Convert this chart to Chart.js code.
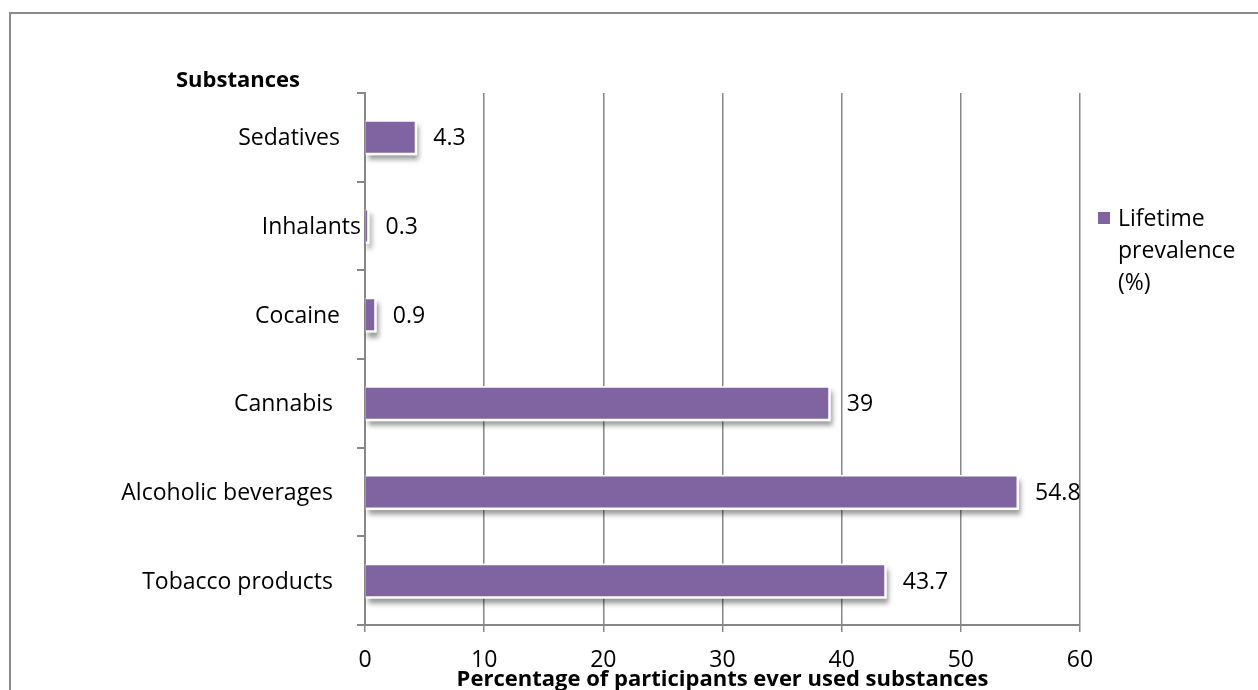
<!DOCTYPE html>
<html>
<head>
<meta charset="utf-8">
<script src="https://cdn.jsdelivr.net/npm/chart.js@4"></script>
<style>
  body { margin: 0; background: #fff; }
  canvas { display: block; }
</style>
</head>
<body>
<canvas id="myChart" width="1258" height="690"></canvas>
<script>
const categories = ['Sedatives', 'Inhalants', 'Cocaine', 'Cannabis', 'Alcoholic beverages', 'Tobacco products'];
const prevalence = [4.3, 0.3, 0.9, 39, 54.8, 43.7];
const xTicks = [0, 10, 20, 30, 40, 50, 60];
const seriesName = ['Lifetime', 'prevalence', '(%)'];

// gap between each category label and the axis line
const labelGap = [25, 4, 25, 32, 32, 32];

const purple = '#8064A2';
const lineGray = '#878787';
const font = '"Open Sans", sans-serif';

const canvas = document.getElementById('myChart');
const ctx = canvas.getContext('2d');

const decorations = {
  id: 'decorations',
  beforeDraw(chart) {
    const c = chart.ctx;
    c.save();
    c.strokeStyle = '#8a8a8a';
    c.lineWidth = 2;
    c.beginPath();
    c.moveTo(10, 690);
    c.lineTo(10, 13);
    c.lineTo(1258, 13);
    c.stroke();
    c.restore();
  },
  beforeDatasetsDraw(chart) {
    // soft drop shadow under each bar
    const c = chart.ctx;
    c.save();
    c.shadowColor = 'rgba(0,0,0,0.4)';
    c.shadowOffsetX = 2;
    c.shadowOffsetY = 5;
    c.shadowBlur = 5;
    c.fillStyle = '#ffffff';
    chart.getDatasetMeta(0).data.forEach(bar => {
      c.fillRect(bar.base, bar.y - bar.height / 2, bar.x - bar.base + 1, bar.height + 1);
    });
    c.restore();
  },
  afterDatasetsDraw(chart) {
    const c = chart.ctx;
    const y = chart.scales.y;
    c.save();
    c.fillStyle = '#000';
    c.font = '23px ' + font;
    c.textBaseline = 'alphabetic';

    // value labels
    c.textAlign = 'left';
    chart.getDatasetMeta(0).data.forEach((bar, i) => {
      c.fillText(String(prevalence[i]), bar.x + 17, bar.y + 8);
    });

    // category labels
    c.textAlign = 'right';
    categories.forEach((name, i) => {
      c.fillText(name, y.right - labelGap[i], y.getPixelForValue(i) + 8);
    });

    // axis heading
    c.textAlign = 'left';
    c.font = 'bold 22px ' + font;
    c.fillText('Substances', 176, 87);

    // legend
    c.fillStyle = purple;
    c.fillRect(1098, 212, 12, 12);
    c.fillStyle = '#000';
    c.font = '23px ' + font;
    seriesName.forEach((line, i) => {
      c.fillText(line, 1118, 226 + i * 32);
    });
    c.restore();
  }
};

new Chart(ctx, {
  type: 'bar',
  data: {
    labels: categories,
    datasets: [{
      label: seriesName.join(' '),
      data: prevalence,
      backgroundColor: purple,
      borderColor: '#ffffff',
      borderWidth: 1.5,
      categoryPercentage: 1,
      barPercentage: 0.384
    }]
  },
  options: {
    indexAxis: 'y',
    responsive: false,
    animation: false,
    layout: { padding: { left: 357, top: 93, right: 178, bottom: 0 } },
    scales: {
      x: {
        min: 0,
        max: 60,
        afterBuildTicks: s => { s.ticks = xTicks.map(v => ({ value: v })); },
        afterFit: s => { s.height = 65; },
        grid: { color: lineGray, lineWidth: 1.5, tickLength: 7 },
        border: { color: lineGray, width: 2 },
        ticks: { color: '#000', font: { family: font, size: 23 }, padding: 15 },
        title: {
          display: true,
          text: 'Percentage of participants ever used substances',
          color: '#000',
          font: { family: font, size: 22, weight: 'bold' },
          padding: { top: 0, bottom: -3 }
        }
      },
      y: {
        afterFit: s => { s.width = 8; },
        grid: { offset: true, drawOnChartArea: false, color: lineGray, lineWidth: 2, tickLength: 8 },
        border: { color: lineGray, width: 2 },
        ticks: { display: false }
      }
    },
    plugins: {
      legend: { display: false },
      tooltip: { enabled: false }
    }
  },
  plugins: [decorations]
});
</script>
</body>
</html>
